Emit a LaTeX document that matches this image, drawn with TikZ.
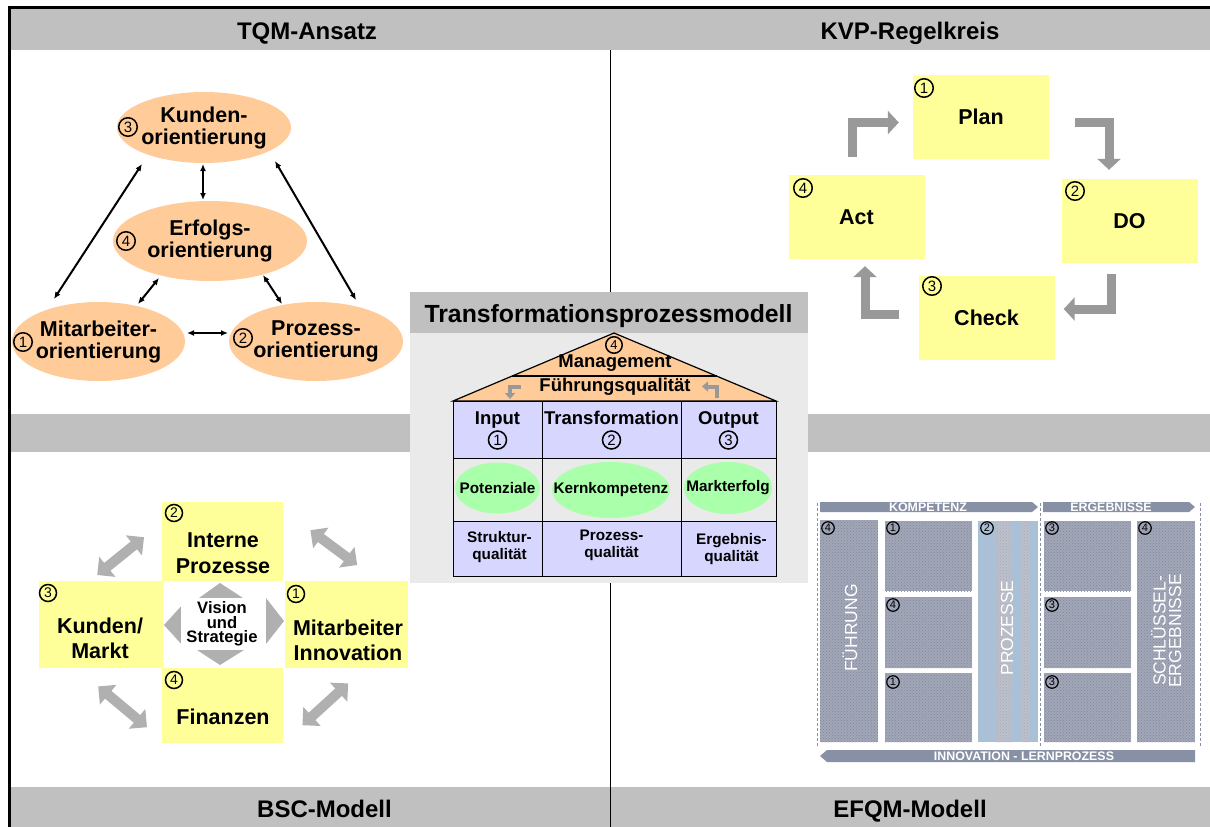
\documentclass[tikz,border=0pt]{standalone}
\usepackage{fontspec}
\setmainfont{Liberation Sans}
\usetikzlibrary{shapes.geometric,arrows.meta,calc,patterns}

\definecolor{band}{HTML}{C0C0C0}
\definecolor{panel}{HTML}{EAEAEA}
\definecolor{peach}{HTML}{FFCC99}
\definecolor{note}{HTML}{FFFF99}
\definecolor{lav}{HTML}{D6D6FF}
\definecolor{mint}{HTML}{AAFFAA}
\definecolor{flow}{HTML}{999999}
\definecolor{bscgrey}{HTML}{B0B0B0}
\definecolor{efqmbox}{HTML}{A2A7B8}
\definecolor{efqmdot}{HTML}{7E869E}
\definecolor{efqmbar}{HTML}{8890A6}
\definecolor{efqmsky}{HTML}{A9C0D6}
\definecolor{efqmgrey}{HTML}{BCC0CA}

\newcommand\fsz[2]{\fontsize{#1}{#2}\selectfont}

\tikzset{
  ttl/.style={font=\bfseries\fsz{24}{24}, anchor=base, inner sep=0pt},
  orient/.style={ellipse, fill=peach, inner sep=0pt},
  otext/.style={font=\bfseries\fsz{21.5}{22}, align=center, inner sep=0pt},
  num/.style={circle, draw, line width=1.5pt, minimum size=18.5pt, inner sep=0pt, font=\fsz{15}{15}},
  tinynum/.style={circle, draw, line width=1.2pt, minimum size=12.5pt, inner sep=0pt, font=\fsz{11}{11}},
  link/.style={line width=2pt, {Latex[length=7pt,width=6pt]}-{Latex[length=7pt,width=6pt]}},
  pdca/.style={fill=note, minimum width=136pt, minimum height=84pt, inner sep=0pt, font=\bfseries\fsz{21.5}{22}},
  turn/.style={draw=flow, line width=9pt, -{Triangle[width=23pt,length=11pt]}},
  persp/.style={fill=note, inner sep=0pt, anchor=north west},
  ptext/.style={font=\bfseries\fsz{21.5}{25.5}, align=center, inner sep=0pt},
  swaparrow/.style={draw=bscgrey, line width=10pt, {Triangle[width=25pt,length=13pt]}-{Triangle[width=25pt,length=13pt]}},
  cell/.style={draw, line width=1.3pt, inner sep=0pt, anchor=north west},
  head/.style={font=\bfseries\fsz{18.5}{19}, inner sep=0pt, anchor=base},
  goal/.style={ellipse, fill=mint, inner sep=0pt},
  gtext/.style={font=\bfseries\fsz{15.3}{17}, inner sep=0pt},
  qual/.style={font=\bfseries\fsz{15.3}{17}, align=center, inner sep=0pt},
  mini/.style={draw=flow, line width=4pt, -{Triangle[width=10pt,length=6pt]}},
  crit/.style={fill=efqmbox, inner sep=0pt, anchor=north west,
    postaction={pattern=crosshatch dots, pattern color=efqmdot}},
  vlabel/.style={text=white, rotate=90, font=\fsz{17.5}{15.5}, align=center, inner sep=0pt},
  btext/.style={text=white, font=\bfseries\fsz{12.4}{12}, inner sep=0pt},
}

\begin{document}
\begin{tikzpicture}[x=1pt,y=-1pt]
\useasboundingbox (0,0) rectangle (1210,827);

% frame, bands and divider
\fill[band] (11,9) rectangle (1210,50);
\fill[band] (11,414) rectangle (1210,452);
\fill[band] (11,787) rectangle (1210,827);
\draw[line width=1.2pt] (610.5,50) -- (610.5,827);
\draw[line width=3pt] (8,7.5) -- (1210,7.5);
\draw[line width=3pt] (9.5,6) -- (9.5,827);

\node[ttl] (tqm)  at (307,39.5)    {TQM-Ansatz};
\node[ttl] (kvp)  at (910,39.5)    {KVP-Regelkreis};
\node[ttl] (bsc)  at (324.5,817.5) {BSC-Modell};
\node[ttl] (efqm) at (910,817.5)   {EFQM-Modell};

% ---------------- TQM ----------------
\node[orient, minimum width=174pt, minimum height=71pt] (ku) at (204,127.5) {};
\node[orient, minimum width=194pt, minimum height=80pt] (er) at (210,241) {};
\node[orient, minimum width=173pt, minimum height=79pt] (mi) at (98.5,341.5) {};
\node[orient, minimum width=174pt, minimum height=79pt] (pz) at (316,341.5) {};
\node[otext] (kut) at (ku) {Kunden-\\orientierung};
\node[otext] (ert) at (er) {Erfolgs-\\orientierung};
\node[otext] (mit) at (mi) {Mitarbeiter-\\orientierung};
\node[otext] (pzt) at (pz) {Prozess-\\orientierung};
\node[num] (kun) at (128,127) {3};
\node[num] (ern) at (126,241) {4};
\node[num] (min) at (23,342) {1};
\node[num] (pzn) at (243,338) {2};

\draw[link] ($(ku)+(-1,36.5)$) -- ($(er)+(-7,-41)$);
\draw[link] ($(ku)+(-62,36.5)$) -- ($(mi)+(-44.5,-42.5)$);
\draw[link] ($(ku)+(71,33.5)$) -- ($(pz)+(40,-41.5)$);
\draw[link] ($(er)+(-51,37)$) -- ($(mi)+(39.5,-37.5)$);
\draw[link] ($(er)+(53,34)$) -- ($(pz)+(-34,-37.5)$);
\draw[link] ($(mi)+(88.5,-8.5)$) -- ($(pz)+(-88,-8.5)$);

% ---------------- KVP ----------------
\node[pdca] (plan)  at (981,117)    {Plan};
\node[pdca] (do)    at (1129.5,221) {DO};
\node[pdca] (check) at (986.5,317.5){Check};
\node[pdca] (act)   at (856.5,217)  {Act};
\node[num] (pln) at (924,88)  {1};
\node[num] (don) at (1075,191) {2};
\node[num] (chn) at (932,286) {3};
\node[num] (acn) at (803,188) {4};

\draw[turn] ($(act.north)+(-4.5,-18)$) |- ($(plan.west)+(-14,5.5)$);
\draw[turn] ($(plan.east)+(26,5)$) -| ($(do.north)+(-20.5,-9)$);
\draw[turn] ($(do.south)+(-18.5,11)$) |- ($(check.east)+(9,-8.5)$);
\draw[turn] ($(check.west)+(-19,-3.5)$) -| ($(act.south)+(8.5,7)$);

% ---------------- BSC ----------------
\node[persp, minimum width=121pt, minimum height=79pt] (ip) at (162,502) {};
\node[persp, minimum width=124pt, minimum height=87pt] (kd) at (39,581) {};
\node[persp, minimum width=123pt, minimum height=87pt] (mb) at (285,581) {};
\node[persp, minimum width=121pt, minimum height=75pt] (fi) at (162,668) {};
\node[ptext] (ipt) at (223,553)     {Interne\\Prozesse};
\node[ptext] (kdt) at (100,638.5)   {Kunden/\\Markt};
\node[ptext] (mbt) at (348,640.5)   {Mitarbeiter\\Innovation};
\node[ptext] (fit) at (223,716.5)   {Finanzen};
\node[num, minimum size=17pt, font=\fsz{14}{14}] (ipn) at (174,513) {2};
\node[num, minimum size=17pt, font=\fsz{14}{14}] (kdn) at (48,593)  {3};
\node[num, minimum size=17pt, font=\fsz{14}{14}] (mbn) at (296,594) {1};
\node[num, minimum size=17pt, font=\fsz{14}{14}] (fin) at (174,680) {4};

% vision in the middle, with its four pointers
\fill[bscgrey] (199,598) -- (220,583) -- (243,598) -- cycle;
\fill[bscgrey] (197,650) -- (220,665) -- (244,650) -- cycle;
\fill[bscgrey] (184,603) -- (164,625) -- (184,647) -- cycle;
\fill[bscgrey] (266,598) -- (284,621) -- (266,644) -- cycle;
\node[fill=white, minimum width=82pt, minimum height=52pt, inner sep=0pt,
      font=\bfseries\fsz{16.6}{14.5}, align=center] (vis) at (222,624) {Vision\\und\\Strategie};

\draw[swaparrow] ($(kd.north)+(-4,-6)$) -- ($(ip.west)+(-18,-4.5)$);
\draw[swaparrow] ($(ip.east)+(27,-11.5)$) -- ($(mb.north)+(10.5,-16)$);
\draw[swaparrow] ($(kd.south)+(-3,18)$) -- ($(fi.west)+(-15,21.5)$);
\draw[swaparrow] ($(fi.east)+(19,19.5)$) -- ($(mb.south)+(1.5,15)$);

% ---------------- EFQM ----------------
\draw[efqmbar, line width=1pt, dash pattern=on 3pt off 2pt] (817,503) -- (817,746);
\draw[efqmbar, line width=1pt, dash pattern=on 3pt off 2pt] (1040.5,503) -- (1040.5,746);
\draw[efqmbar, line width=1pt, dash pattern=on 3pt off 2pt] (1200,503) -- (1200,746);
\fill[efqmbar] (820,502) -- (1032,502) -- (1038,507) -- (1032,512) -- (820,512) -- cycle;
\fill[efqmbar] (1043,502) -- (1189,502) -- (1195,507) -- (1189,512) -- (1043,512) -- cycle;
\fill[efqmbar] (820,756) -- (827,750) -- (1195,750) -- (1195,762) -- (827,762) -- cycle;
\node[btext] (kom) at (928,507)  {KOMPETENZ};
\node[btext] (erg) at (1111,507) {ERGEBNISSE};
\node[btext] (inn) at (1024,756) {INNOVATION - LERNPROZESS};

\node[crit, minimum width=58pt, minimum height=222pt] (fu) at (820,520) {};
\node[crit, minimum width=87pt, minimum height=70pt] (e1) at (885,521) {};
\node[crit, minimum width=87pt, minimum height=71pt] (e2) at (885,597) {};
\node[crit, minimum width=87pt, minimum height=69pt] (e3) at (885,673) {};
\node[crit, minimum width=87pt, minimum height=70pt] (r1) at (1044,521) {};
\node[crit, minimum width=87pt, minimum height=71pt] (r2) at (1044,597) {};
\node[crit, minimum width=87pt, minimum height=69pt] (r3) at (1044,673) {};
\node[crit, minimum width=58pt, minimum height=221pt] (sk) at (1137,521) {};
\node[fill=efqmsky, inner sep=0pt, anchor=north west, minimum width=60pt, minimum height=221pt] (pr) at (978,521) {};
\fill[efqmgrey, postaction={pattern=crosshatch dots, pattern color=efqmdot!70}] (996,521) rectangle (1012,742);
\fill[efqmgrey, postaction={pattern=crosshatch dots, pattern color=efqmdot!70}] (1022,521) rectangle (1030,742);

\node[vlabel] (fut) at (850,628) {FÜHRUNG};
\node[vlabel] (prt) at (1007,628) {PROZESSE};
\node[vlabel] (skt) at (1166,631) {SCHLÜSSEL-\\ERGEBNISSE};

\node[tinynum] (fun) at (828,528)  {4};
\node[tinynum] (e1n) at (893,528)  {1};
\node[tinynum] (e2n) at (893,605)  {4};
\node[tinynum] (e3n) at (893,682)  {1};
\node[tinynum] (prn) at (987,528)  {2};
\node[tinynum] (r1n) at (1052,528) {3};
\node[tinynum] (r2n) at (1052,605) {3};
\node[tinynum] (r3n) at (1052,682) {3};
\node[tinynum] (skn) at (1145,528) {4};

% ---------------- transformation process model ----------------
\node[fill=panel, minimum width=398pt, minimum height=291pt, anchor=north west, inner sep=0pt] (panel) at (410,292) {};
\node[fill=band, minimum width=398pt, minimum height=41pt, anchor=north west, inner sep=0pt] (pband) at (410,292) {};
\node[ttl, font=\bfseries\fsz{24.8}{25}] (ptitle) at (608.5,322) {Transformationsprozessmodell};

\filldraw[fill=peach, line width=1.2pt] (453,401) -- (614,333) -- (776,401) -- cycle;
\draw[line width=1.2pt] (512,376) -- (716.5,376);
\node[num, minimum size=16.5pt, font=\fsz{13}{13}] (mgn) at (614,345) {4};
\node[font=\bfseries\fsz{18.5}{19}, inner sep=0pt] (mgt) at (615,363.5) {Management};
\node[font=\bfseries\fsz{18.5}{19}, inner sep=0pt] (fqt) at (615,387) {Führungsqualität};
\draw[mini] (521,386.5) -- (510,386.5) -- (510,399);
\draw[mini] (717,398) -- (717,386.5) -- (702,386.5);

\node[cell, fill=lav, minimum width=89pt,  minimum height=57pt] (c11) at (453,401) {};
\node[cell, fill=lav, minimum width=139pt, minimum height=57pt] (c12) at (542,401) {};
\node[cell, fill=lav, minimum width=95pt,  minimum height=57pt] (c13) at (681,401) {};
\node[cell, fill=panel, minimum width=89pt,  minimum height=63pt] (c21) at (453,458) {};
\node[cell, fill=panel, minimum width=139pt, minimum height=63pt] (c22) at (542,458) {};
\node[cell, fill=panel, minimum width=95pt,  minimum height=63pt] (c23) at (681,458) {};
\node[cell, fill=lav, minimum width=89pt,  minimum height=55pt] (c31) at (453,521) {};
\node[cell, fill=lav, minimum width=139pt, minimum height=55pt] (c32) at (542,521) {};
\node[cell, fill=lav, minimum width=95pt,  minimum height=55pt] (c33) at (681,521) {};

\node[head] (hin)  at (497.5,424) {Input};
\node[head] (htr)  at (611.5,424) {Transformation};
\node[head] (hout) at (728.5,424) {Output};
\node[num, minimum size=18pt] (nin)  at (497.5,440) {1};
\node[num, minimum size=18pt] (ntr)  at (611.5,440) {2};
\node[num, minimum size=18pt] (nout) at (728.5,440) {3};

\node[goal, minimum width=85pt,  minimum height=51pt] (pot) at (497.5,488) {};
\node[goal, minimum width=118pt, minimum height=56pt] (kern) at (611,490) {};
\node[goal, minimum width=88pt,  minimum height=52pt] (mkt) at (728,488) {};
\node[gtext] (pott)  at (pot)  {Potenziale};
\node[gtext] (kernt) at (kern) {Kernkompetenz};
\node[gtext] (mktt)  at (mkt)  {Markterfolg};

\node[qual] (q1) at (499.5,547) {Struktur-\\qualität};
\node[qual] (q2) at (611.5,545) {Prozess-\\qualität};
\node[qual] (q3) at (731.5,549) {Ergebnis-\\qualität};
\end{tikzpicture}
\end{document}
